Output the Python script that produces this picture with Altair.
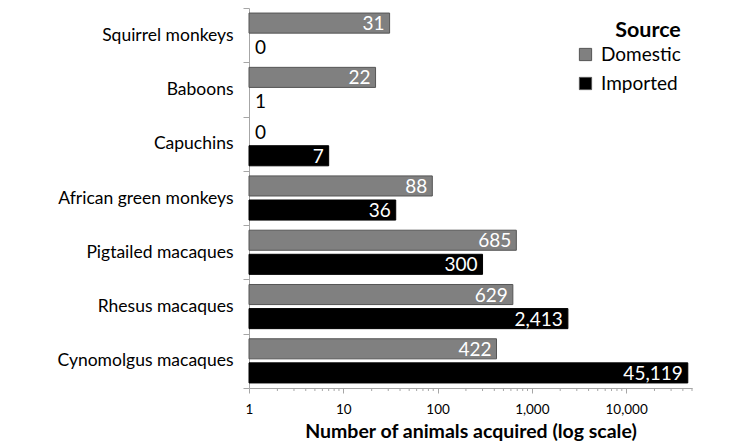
import altair as alt
import pandas as pd

species = ["Squirrel monkeys", "Baboons", "Capuchins", "African green monkeys",
           "Pigtailed macaques", "Rhesus macaques", "Cynomolgus macaques"]
domestic = [31, 22, 0, 88, 685, 629, 422]
imported = [0, 1, 7, 36, 300, 2413, 45119]
sources = ["Domestic", "Imported"]
x_ticks = [1, 10, 100, 1000, 10000]
x_max = 50000

rows = []
for s, d, i in zip(species, domestic, imported):
    rows.append({"species": s, "source": "Domestic", "value": d})
    rows.append({"species": s, "source": "Imported", "value": i})
df = pd.DataFrame(rows)

minor = sorted(set([m * 10 ** e for e in range(0, 5) for m in range(2, 10)
                    if m * 10 ** e <= x_max] + [x_max]))
minor_df = pd.DataFrame({"value": minor})

W, H = 443, 380
FONT = "Lato"
GRAY = "#a6a6a6"

xscale = alt.Scale(type="log", domain=[1, x_max], nice=False)
y = alt.Y("species:N", sort=species, scale=alt.Scale(paddingInner=0, paddingOuter=0),
          axis=alt.Axis(title=None, tickBand="extent", labelFontSize=17.5, labelFont=FONT,
                        labelColor="#000000", labelPadding=10, tickSize=6,
                        tickColor=GRAY, domainColor=GRAY, grid=False, labelLimit=300))
yoff = alt.YOffset("source:N", sort=sources,
                   scale=alt.Scale(paddingInner=0.1667, paddingOuter=0.21))

base = alt.Chart(df)

bars = base.transform_filter("datum.value > 1").mark_bar(strokeWidth=1).encode(
    x=alt.X("value:Q", scale=xscale,
            axis=alt.Axis(values=x_ticks, format=",", title="Number of animals acquired (log scale)",
                          labelFont=FONT, labelFontSize=13.5, labelColor="#000000",
                          labelPadding=9, tickSize=5, tickColor=GRAY, domainColor=GRAY,
                          grid=False, titleFont=FONT, titleFontSize=19.5,
                          titleFontWeight="bold", titleColor="#000000", titlePadding=7,
                          labelFlush=False)),
    x2=alt.datum(1),
    y=y,
    yOffset=yoff,
    color=alt.Color("source:N", sort=sources,
                    scale=alt.Scale(domain=sources, range=["#808080", "#000000"]),
                    legend=alt.Legend(title=None, orient="none", legendX=327, legendY=37,
                                      labelFont=FONT, labelFontSize=19, labelColor="#000000",
                                      labelOffset=6,
                                      symbolType="square", symbolSize=150, rowPadding=9,
                                      symbolStrokeWidth=1, symbolStrokeColor="#555555",
                                      symbolOpacity=1)),
    stroke=alt.Stroke("source:N", sort=sources,
                      scale=alt.Scale(domain=sources, range=["#555555", "#000000"]),
                      legend=None),
)

big_labels = base.transform_filter("datum.value >= 2").mark_text(
    align="right", baseline="middle", dx=-5, dy=1, color="white", fontSize=19, font=FONT
).encode(x=alt.X("value:Q", scale=xscale), y=y, yOffset=yoff,
         text=alt.Text("value:Q", format=","))

small_labels = base.transform_filter("datum.value < 2").mark_text(
    align="left", baseline="middle", dx=6, dy=1, color="black", fontSize=19, font=FONT
).encode(x=alt.datum(1), y=y, yOffset=yoff, text=alt.Text("value:Q", format=","))

minor_ticks = alt.Chart(minor_df).mark_rule(color=GRAY, strokeWidth=1).encode(
    x=alt.X("value:Q", scale=xscale),
    y=alt.value(H),
    y2=alt.value(H + 3),
)

legend_title = alt.Chart(pd.DataFrame({"t": ["Source"]})).mark_text(
    fontSize=21.5, fontWeight="bold", font=FONT, color="black", align="center", baseline="middle"
).encode(x=alt.value(399), y=alt.value(23), text="t:N")

chart = alt.layer(bars, big_labels, small_labels, minor_ticks, legend_title).properties(
    width=W, height=H,
    autosize=alt.AutoSizeParams(type="none"),
    padding={"left": 241, "top": 0, "right": 40, "bottom": 60},
).configure_view(stroke=None).resolve_scale(color="independent")

chart.save("out.html", embed_options={"renderer": "svg", "actions": False})
